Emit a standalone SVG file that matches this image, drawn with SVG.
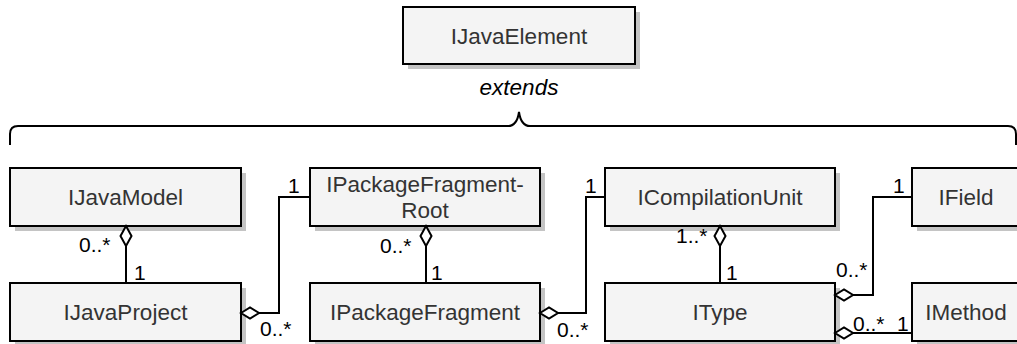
<svg xmlns="http://www.w3.org/2000/svg" width="1017" height="344" viewBox="0 0 1017 344">
  <style>
    .shadow { fill: #c4c4c4; stroke: none; }
    .box { fill: #f4f4f4; stroke: #000; stroke-width: 2; }
    .lbl { font-family: "Liberation Sans", Arial, sans-serif; font-size: 22.5px; fill: #333; text-anchor: middle; }
    .mult { font-family: "Liberation Sans", Arial, sans-serif; font-size: 21px; fill: #000; }
    .wire { fill: none; stroke: #000; stroke-width: 2; }
    .dia { fill: #fff; stroke: #000; stroke-width: 2; }
    .note { font-family: "Liberation Sans", Arial, sans-serif; font-size: 22.5px; font-style: italic; fill: #000; text-anchor: middle; }
  </style>

  <!-- top-level interface -->
  <g id="IJavaElement">
    <rect class="shadow" x="408" y="12" width="232" height="57"/>
    <rect class="box" x="403" y="7" width="232" height="57"/>
    <text class="lbl" x="519" y="44">IJavaElement</text>
  </g>

  <!-- brace grouping all sub-interfaces -->
  <g id="extends">
    <text class="note" x="519" y="95">extends</text>
    <path class="wire" d="M 10 145 V 134 Q 10 126 18 126 H 508 Q 517 126 519 112 Q 521 126 530 126 H 1008 Q 1016 126 1016 134 V 145"/>
  </g>

  <g id="IJavaModel">
    <rect class="shadow" x="15" y="173" width="231" height="58"/>
    <rect class="box" x="10" y="168" width="231" height="58"/>
    <text class="lbl" x="125.5" y="205">IJavaModel</text>
  </g>

  <g id="IJavaProject">
    <rect class="shadow" x="15" y="288" width="231" height="58"/>
    <rect class="box" x="10" y="283" width="231" height="58"/>
    <text class="lbl" x="125.5" y="320">IJavaProject</text>
  </g>

  <g id="IPackageFragmentRoot">
    <rect class="shadow" x="315" y="173" width="230" height="58"/>
    <rect class="box" x="310" y="168" width="230" height="58"/>
    <text class="lbl" x="425" y="192">IPackageFragment-</text>
    <text class="lbl" x="425" y="218">Root</text>
  </g>

  <g id="IPackageFragment">
    <rect class="shadow" x="315" y="288" width="230" height="58"/>
    <rect class="box" x="310" y="283" width="230" height="58"/>
    <text class="lbl" x="425" y="320">IPackageFragment</text>
  </g>

  <g id="ICompilationUnit">
    <rect class="shadow" x="610" y="173" width="230" height="58"/>
    <rect class="box" x="605" y="168" width="230" height="58"/>
    <text class="lbl" x="720" y="205">ICompilationUnit</text>
  </g>

  <g id="IType">
    <rect class="shadow" x="610" y="288" width="230" height="58"/>
    <rect class="box" x="605" y="283" width="230" height="58"/>
    <text class="lbl" x="720" y="320">IType</text>
  </g>

  <g id="IField">
    <rect class="shadow" x="917" y="173" width="110" height="58"/>
    <rect class="box" x="912" y="168" width="110" height="58"/>
    <text class="lbl" x="966" y="205">IField</text>
  </g>

  <g id="IMethod">
    <rect class="shadow" x="917" y="288" width="110" height="58"/>
    <rect class="box" x="912" y="283" width="110" height="58"/>
    <text class="lbl" x="966" y="320">IMethod</text>
  </g>

  <!-- aggregation connectors with multiplicities -->
  <g id="connectors">
    <!-- IJavaModel <>- IJavaProject -->
    <path class="wire" d="M 126 246 V 283"/>
    <path class="dia" d="M 126 226 L 131.5 236 L 126 246 L 120.5 236 Z"/>
    <text class="mult" x="79" y="252">0..*</text>
    <text class="mult" x="134" y="280">1</text>

    <!-- IJavaProject <>- IPackageFragmentRoot -->
    <path class="wire" d="M 259 313 H 279 V 197 H 310"/>
    <path class="dia" d="M 241 313 L 250 307.5 L 259 313 L 250 318.5 Z"/>
    <text class="mult" x="288" y="193">1</text>
    <text class="mult" x="260" y="336">0..*</text>

    <!-- IPackageFragmentRoot <>- IPackageFragment -->
    <path class="wire" d="M 426 246 V 283"/>
    <path class="dia" d="M 426 226 L 431.5 236 L 426 246 L 420.5 236 Z"/>
    <text class="mult" x="380" y="253">0..*</text>
    <text class="mult" x="431" y="280">1</text>

    <!-- IPackageFragment <>- ICompilationUnit -->
    <path class="wire" d="M 558 313 H 586 V 197 H 605"/>
    <path class="dia" d="M 540 313 L 549 307.5 L 558 313 L 549 318.5 Z"/>
    <text class="mult" x="585" y="193">1</text>
    <text class="mult" x="557" y="337">0..*</text>

    <!-- ICompilationUnit <>- IType -->
    <path class="wire" d="M 720 246 V 283"/>
    <path class="dia" d="M 720 226 L 725.5 236 L 720 246 L 714.5 236 Z"/>
    <text class="mult" x="676" y="243">1..*</text>
    <text class="mult" x="726" y="280">1</text>

    <!-- IType <>- IField -->
    <path class="wire" d="M 853 295 H 873 V 197 H 912"/>
    <path class="dia" d="M 835 295 L 844 289.5 L 853 295 L 844 300.5 Z"/>
    <text class="mult" x="893" y="193">1</text>
    <text class="mult" x="836" y="277">0..*</text>

    <!-- IType <>- IMethod -->
    <path class="wire" d="M 853 333 H 912"/>
    <path class="dia" d="M 835 333 L 844 327.5 L 853 333 L 844 338.5 Z"/>
    <text class="mult" x="853" y="331">0..*</text>
    <text class="mult" x="897" y="331">1</text>
  </g>
</svg>
